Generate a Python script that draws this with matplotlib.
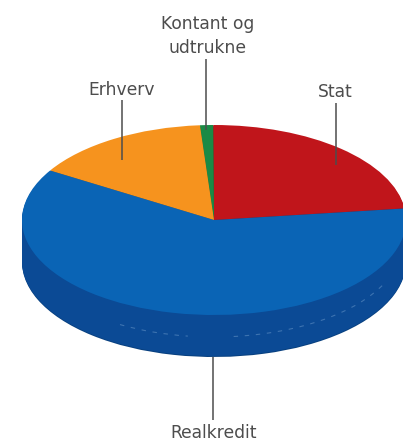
import matplotlib
matplotlib.use("Agg")
import matplotlib.pyplot as plt
from matplotlib.patches import Arc

labels = ["Stat", "Kontant og\nudtrukne", "Erhverv", "Realkredit"]
values = [23.1, 1.1, 15.1, 60.6]
top_colors = ["#c0151b", "#1a8a45", "#f6931e", "#0a64b5"]
side_colors = ["#7f0e12", "#10582c", "#a8640f", "#0b4a95"]

W, H = 403, 441
CX, CY = 214, 220
RX, RY = 192, 95
DEPTH = 42
scale = RX / RY

fig = plt.figure(figsize=(W / 100, H / 100), dpi=100, facecolor="white")
ax = fig.add_axes([0, 0, 1, 1])


def py(y):
    return (H - y) * scale


ax.pie(values, colors=["#08407f"] * 4, startangle=7,
       radius=RX, center=(CX, py(CY + DEPTH)), frame=False)
for d in range(DEPTH - 1, 0, -1):
    ax.pie(values, colors=side_colors, startangle=7,
           radius=RX, center=(CX, py(CY + d)), frame=False)
ax.pie(values, colors=top_colors, startangle=7,
       radius=RX, center=(CX, py(CY)), frame=False)

ax.set_aspect("auto")
ax.set_xlim(0, W)
ax.set_ylim(0, H * scale)
ax.axis("off")

ax.add_patch(Arc((CX, py(CY + 24)), 2 * RX - 8, 2 * RX - 8, theta1=240, theta2=262,
                 color="#6f9ccc", lw=0.8, ls=(0, (4, 6)), alpha=0.5))
ax.add_patch(Arc((CX, py(CY + 24)), 2 * RX - 8, 2 * RX - 8, theta1=276, theta2=335,
                 color="#6f9ccc", lw=0.8, ls=(0, (4, 6)), alpha=0.5))

leaders = [(336, 103, 165), (205.5, 59, 130), (122, 100, 160), (213, 357, 420)]
text_pos = [(335, 92), (208, 36), (122, 90), (214, 433)]
for lab, (lx, y0, y1), (tx, ty) in zip(labels, leaders, text_pos):
    ax.plot([lx, lx], [py(y0), py(y1)], color="#4d4d4d", lw=1.1, solid_capstyle="butt")
    ax.text(tx, py(ty), lab, ha="center", va="center", fontsize=12.3, color="#4d4d4d",
            family="DejaVu Sans", linespacing=1.45, clip_on=False)

fig.savefig("out.png", dpi=100)
